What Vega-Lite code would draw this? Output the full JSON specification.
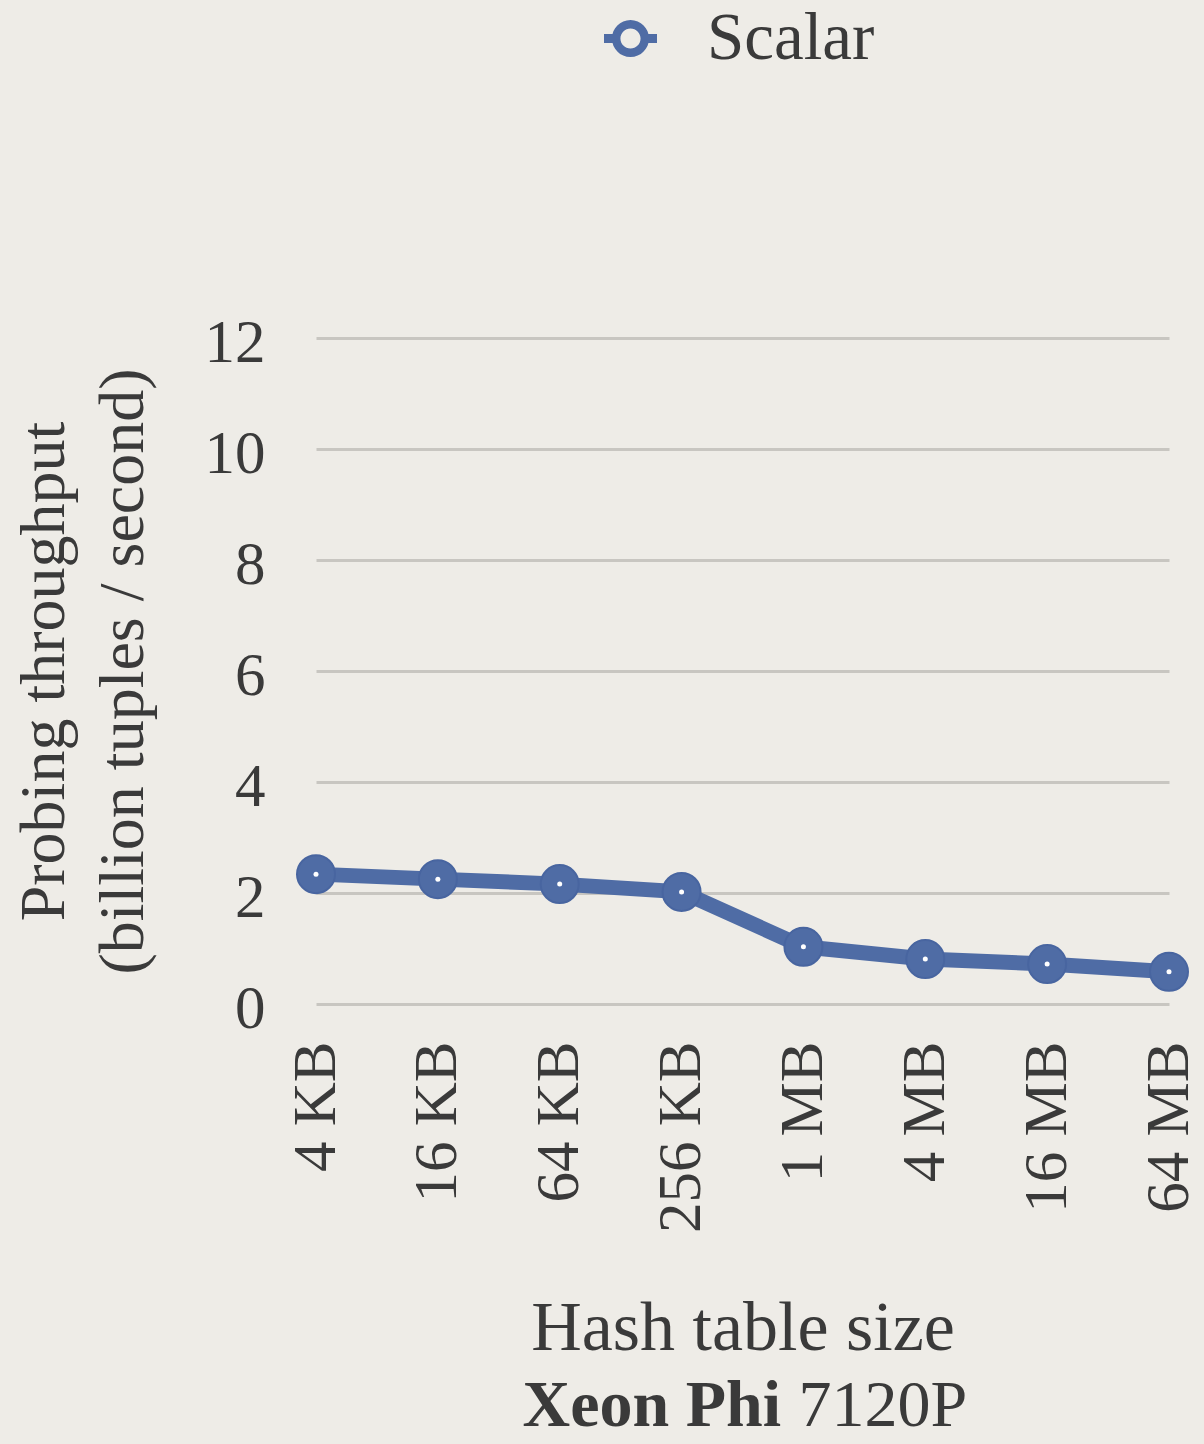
{
  "$schema": "https://vega.github.io/schema/vega-lite/v6.json",
  "width": 853,
  "height": 666,
  "autosize": {"type": "none"},
  "padding": {"left": 316, "top": 338, "right": 35, "bottom": 440},
  "background": "#eeece7",
  "config": {
    "view": {"stroke": null},
    "font": "Liberation Serif",
    "axis": {"labelColor": "#3a3a3a", "titleColor": "#3a3a3a", "labelFont": "Liberation Serif", "titleFont": "Liberation Serif", "titleFontWeight": "normal", "labelLimit": 0, "titleLimit": 0}
  },
  "data": {
    "values": [
      {"size": "4 KB", "throughput": 2.34, "series": "Scalar"},
      {"size": "16 KB", "throughput": 2.25, "series": "Scalar"},
      {"size": "64 KB", "throughput": 2.16, "series": "Scalar"},
      {"size": "256 KB", "throughput": 2.02, "series": "Scalar"},
      {"size": "1 MB", "throughput": 1.03, "series": "Scalar"},
      {"size": "4 MB", "throughput": 0.81, "series": "Scalar"},
      {"size": "16 MB", "throughput": 0.72, "series": "Scalar"},
      {"size": "64 MB", "throughput": 0.58, "series": "Scalar"}
    ]
  },
  "encoding": {
    "y": {
      "field": "throughput",
      "type": "quantitative",
      "scale": {"domain": [0, 12], "nice": false},
      "axis": {
        "values": [0, 2, 4, 6, 8, 10, 12],
        "labelFontSize": 61,
        "labelPadding": 51,
        "labelOffset": 5,
        "ticks": false,
        "domain": false,
        "grid": true,
        "gridColor": "#c8c6c1",
        "gridWidth": 3,
        "title": ["Probing throughput", "(billion tuples / second)"],
        "titleFontSize": 64,
        "titleLineHeight": 79,
        "titleAngle": -90,
        "titleX": -253,
        "titleY": 333,
        "titleAlign": "center",
        "titleBaseline": "alphabetic"
      }
    }
  },
  "layer": [
    {
      "mark": {"type": "line", "color": "#4f6ca5", "strokeWidth": 15},
      "encoding": {
        "x": {
          "field": "size", "type": "ordinal", "sort": null,
          "scale": {"type": "point", "padding": 0},
          "axis": {
            "orient": "bottom",
            "title": "Hash table size",
            "labelAngle": -90,
            "labelFontSize": 61,
            "labelPadding": 37,
            "ticks": false,
            "domain": false,
            "grid": false,
            "titleFontSize": 70,
            "titleX": 426.5,
            "titleY": 345,
            "titleAlign": "center",
            "titleBaseline": "alphabetic"
          }
        }
      }
    },
    {
      "mark": {"type": "point", "filled": true, "shape": "circle", "size": 1444, "opacity": 1, "stroke": "#4865a0", "strokeWidth": 2},
      "encoding": {
        "x": {
          "field": "size", "type": "ordinal", "sort": null,
          "scale": {"type": "point", "padding": 0},
          "axis": {
            "orient": "bottom",
            "title": "Xeon Phi",
            "labels": false, "ticks": false, "domain": false, "grid": false,
            "titleFontSize": 66,
            "titleFontWeight": "bold",
            "titleX": 206,
            "titleY": 421,
            "titleAlign": "left",
            "titleBaseline": "alphabetic"
          }
        },
        "color": {
          "field": "series", "type": "nominal",
          "scale": {"domain": ["Scalar"], "range": ["#4f6ca5"]},
          "legend": {
            "title": null,
            "orient": "none",
            "legendX": 281,
            "legendY": -333,
            "padding": 0,
            "labelFontSize": 67,
            "labelFont": "Liberation Serif",
            "labelColor": "#3a3a3a",
            "labelLimit": 0,
            "labelOffset": 43,
            "symbolSize": 2809,
            "symbolType": "M-0.7,0A0.7,0.7,0,1,1,0.7,0A0.7,0.7,0,1,1,-0.7,0Z M-0.38,0A0.38,0.38,0,1,0,0.38,0A0.38,0.38,0,1,0,-0.38,0Z M-1,-0.17L-0.55,-0.17L-0.55,0.17L-1,0.17Z M0.55,-0.17L1,-0.17L1,0.17L0.55,0.17Z",
            "symbolFillColor": "#4f6ca5",
            "symbolStrokeWidth": 0,
            "encode": {
              "symbols": {
                "update": {
                  "fill": {"value": "#4f6ca5"},
                  "stroke": {"value": "transparent"},
                  "strokeWidth": {"value": 0},
                  "opacity": {"value": 1},
                  "shape": {"value": "M-0.7,0A0.7,0.7,0,1,1,0.7,0A0.7,0.7,0,1,1,-0.7,0Z M-0.38,0A0.38,0.38,0,1,0,0.38,0A0.38,0.38,0,1,0,-0.38,0Z M-1,-0.17L-0.55,-0.17L-0.55,0.17L-1,0.17Z M0.55,-0.17L1,-0.17L1,0.17L0.55,0.17Z"}
                }
              }
            }
          }
        }
      }
    },
    {
      "mark": {"type": "point", "filled": true, "shape": "circle", "size": 25, "color": "#ffffff", "opacity": 1},
      "encoding": {
        "x": {
          "field": "size", "type": "ordinal", "sort": null,
          "scale": {"type": "point", "padding": 0},
          "axis": {
            "orient": "bottom",
            "title": "7120P",
            "labels": false, "ticks": false, "domain": false, "grid": false,
            "titleFontSize": 66,
            "titleX": 482,
            "titleY": 421,
            "titleAlign": "left",
            "titleBaseline": "alphabetic"
          }
        }
      }
    }
  ],
  "resolve": {"axis": {"x": "independent"}}
}
